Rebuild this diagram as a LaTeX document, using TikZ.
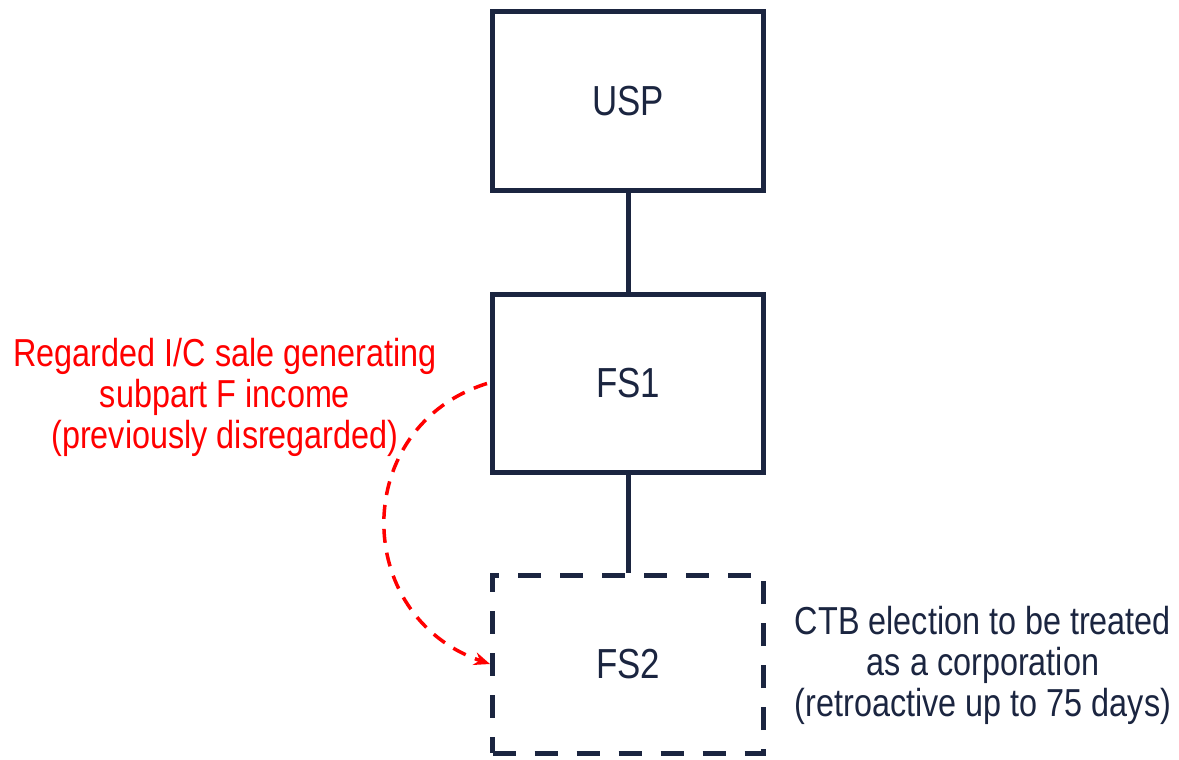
\documentclass[tikz,border=0pt]{standalone}
\usepackage{fontspec}
\setmainfont[FakeStretch=0.83]{Liberation Sans}
\usetikzlibrary{arrows.meta}
\definecolor{navy}{HTML}{1B2540}
\definecolor{alert}{HTML}{FF0000}
\tikzset{
  entity/.style={draw=navy, line width=5pt, minimum width=271pt, minimum height=178pt,
    text=navy, font=\fontsize{42}{48}\selectfont, inner sep=0pt},
  hybrid/.style={entity, dash pattern=on 23pt off 19pt},
  owns/.style={draw=navy, line width=5pt},
  note/.style={align=center, font=\fontsize{39}{41}\selectfont, inner sep=0pt},
  flow/.style={draw=alert, line width=3.5pt, dash pattern=on 14pt off 10pt,
    -{Stealth[length=16pt,width=13pt]}}
}
\begin{document}
\begin{tikzpicture}[x=1pt,y=-1pt]
  \useasboundingbox (0,0) rectangle (1179,760);
  \node[entity] (usp) at (628,101) {USP};
  \node[entity] (fs1) at (628,383.5) {FS1};
  \node[hybrid] (fs2) at (628,664) {FS2};
  \draw[owns] (usp.south) -- (fs1.north);
  \draw[owns] (fs1.south) -- (fs2.north);
  \node[note, text=alert] (sale) at (225,397)
    {Regarded I/C sale generating\\subpart F income\\(previously disregarded)};
  \node[note, text=navy] (ctb) at (983,665)
    {CTB election to be treated\\as a corporation\\(retroactive up to 75 days)};
  \draw[flow] ([xshift=-3pt]fs1.west) .. controls +(-137,43) and +(-139,-48) .. (fs2.west);
\end{tikzpicture}
\end{document}
